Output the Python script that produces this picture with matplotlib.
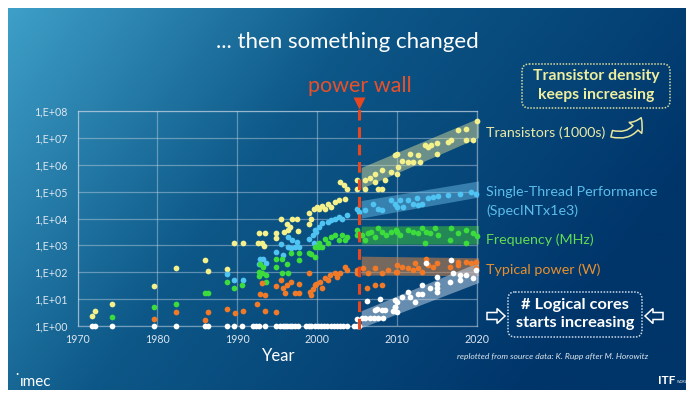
import numpy as np
import matplotlib
matplotlib.use("Agg")
import matplotlib.pyplot as plt
from matplotlib.colors import LinearSegmentedColormap
from matplotlib.patches import Polygon, FancyBboxPatch, FancyArrow, FancyArrowPatch

plt.rcParams['font.family'] = ['Lato', 'DejaVu Sans']

# data: (year, value)
transistors = [
    (1971.8, 2.3), (1972.2, 3.7), (1974.3, 6.4), (1979.6, 31), (1982.3, 150),
    (1986.0, 280), (1986.3, 115), (1988.7, 130), (1989.6, 1250), (1990.7, 1250),
    (1992.6, 1200), (1993.1, 1200), (1992.7, 3000), (1993.5, 3000), (1993.4, 950),
    (1994.8, 2900), (1994.8, 1900), (1995.5, 1.0e4), (1995.9, 3200), (1996.3, 6000),
    (1996.6, 5000), (1996.9, 1.0e4), (1997.5, 1.0e4), (1997.6, 3500), (1996.4, 3700),
    (1999.0, 1.6e4), (1999.3, 1.0e4), (1999.6, 2.3e4), (2000.2, 2.3e4), (1999.0, 6300),
    (2000.0, 2.7e4), (2000.6, 2.9e4), (2001.0, 2.3e4), (2001.4, 3.6e4), (2001.8, 2.7e4),
    (2002.3, 4.2e4), (2002.7, 4.8e4), (2003.5, 5.5e4), (2002.9, 2.3e5), (2003.4, 1.7e5),
    (2003.7, 1.2e5), (2005.0, 2.8e5), (2005.0, 1.2e5), (2006.0, 2.7e5), (2006.0, 1.2e5),
    (2006.6, 3.1e5), (2007.3, 2.3e5), (2007.7, 1.2e5), (2008.1, 1.2e5), (2007.3, 4.7e5),
    (2008.1, 6.3e5), (2008.5, 2.7e5), (2009.3, 5.5e5), (2009.8, 2.3e6), (2010.2, 8.3e5),
    (2010.0, 2.6e6), (2010.0, 4.5e5), (2010.6, 1.4e6), (2011.4, 1.3e6), (2012.0, 1.3e6),
    (2012.9, 1.3e6), (2011.6, 2.6e6), (2012.7, 2.3e6), (2013.5, 5.4e6), (2013.9, 4.7e6),
    (2014.3, 5.4e6), (2015.0, 6.2e6), (2015.0, 2.6e6), (2016.4, 7.0e6), (2016.8, 8.1e6),
    (2017.7, 1.9e7), (2018.7, 2.2e7), (2018.7, 8.0e6), (2019.5, 8.0e6), (2020.1, 4.3e7),
]
single_thread = [
    (1988.7, 87), (1989.6, 51), (1990.7, 51), (1992.9, 300), (1993.2, 320),
    (1992.7, 210), (1993.6, 225), (1994.8, 570), (1995.5, 1100), (1996.4, 2000),
    (1996.9, 1650), (1997.5, 1350), (1997.7, 890), (1997.3, 890), (1996.8, 780),
    (1996.4, 890), (1995.8, 440), (1999.0, 1800), (1999.5, 2400), (1999.9, 3200),
    (1999.6, 1200), (1999.8, 3700), (2000.2, 4900), (2000.6, 6600), (2001.4, 7600),
    (2001.8, 8700), (2002.3, 1.0e4), (2002.7, 1.15e4), (2003.1, 1.0e4), (2003.7, 1.32e4),
    (2005.0, 2.3e4), (2005.2, 1.8e4), (2006.0, 2.0e4), (2007.0, 3.6e4), (2007.7, 2.3e4),
    (2008.1, 2.0e4), (2009.3, 4.8e4), (2009.8, 3.6e4), (2010.4, 4.8e4), (2010.0, 2.7e4),
    (2010.8, 2.7e4), (2011.4, 4.8e4), (2012.0, 3.6e4), (2012.7, 3.2e4), (2013.1, 3.6e4),
    (2012.5, 6.0e4), (2013.9, 6.0e4), (2014.5, 6.5e4), (2015.1, 6.8e4), (2016.4, 7.6e4),
    (2017.9, 8.1e4), (2019.3, 9.5e4), (2019.9, 8.1e4),
]
frequency = [
    (1974.3, 2.1), (1979.6, 5.2), (1982.3, 6.5), (1986.0, 17), (1986.3, 17),
    (1988.7, 42), (1989.6, 25), (1990.6, 33), (1992.9, 210), (1993.2, 160),
    (1992.7, 105), (1993.6, 78), (1993.1, 90), (1993.6, 45), (1992.7, 72),
    (1994.8, 300), (1994.8, 160), (1995.6, 300), (1996.3, 210), (1996.8, 530),
    (1997.7, 530), (1997.7, 280), (1995.6, 96), (1996.4, 96), (1999.0, 530),
    (1999.3, 470), (1999.7, 380), (2000.2, 900), (1999.8, 900), (2000.2, 1200),
    (2001.0, 1800), (2001.8, 2100), (2002.3, 2400), (2003.1, 2400), (2003.7, 2100),
    (2001.4, 1200), (2000.6, 900), (2002.7, 1600), (2003.5, 1600), (2005.0, 3700),
    (2005.0, 2400), (2005.6, 2400), (2006.0, 1600), (2006.8, 3200), (2007.7, 4300),
    (2008.1, 3200), (2008.7, 2400), (2009.3, 3200), (2009.9, 3700), (2006.4, 2800),
    (2007.3, 2100), (2010.0, 3200), (2010.4, 2400), (2011.4, 3700), (2012.0, 3200),
    (2012.7, 2800), (2013.1, 4300), (2013.7, 3200), (2014.1, 2800), (2014.8, 4300),
    (2015.1, 2400), (2013.5, 1250), (2016.8, 4300), (2016.6, 1600), (2017.7, 2800),
    (2018.7, 3700), (2018.7, 1250), (2019.5, 2800), (2020.0, 2200),
]
typical_power = [
    (1979.6, 1.8), (1982.3, 3.2), (1986.0, 1.7), (1986.3, 3.2), (1988.7, 4.3),
    (1989.7, 3.1), (1990.7, 3.7), (1992.5, 6.6), (1993.5, 3.7), (1994.8, 3.3),
    (1992.9, 16), (1993.5, 14), (1993.1, 41), (1994.8, 31), (1995.5, 51),
    (1996.3, 33), (1996.8, 45), (1997.7, 38), (1997.3, 17), (1997.7, 17),
    (1996.0, 17), (1995.8, 25), (1999.0, 95), (1999.1, 19), (1999.5, 23),
    (1999.9, 38), (1999.3, 14), (1999.8, 33), (2000.4, 45), (2001.0, 59),
    (2001.6, 78), (2002.3, 91), (2002.9, 91), (2003.5, 160), (2003.7, 120),
    (2000.6, 25), (2001.4, 51), (2002.5, 68), (2005.0, 120), (2005.0, 91),
    (2005.8, 140), (2006.4, 91), (2007.3, 140), (2008.1, 91), (2008.9, 120),
    (2009.9, 105), (2006.2, 25), (2007.3, 33), (2008.1, 33), (2010.0, 185),
    (2010.0, 105), (2010.6, 160), (2011.4, 140), (2012.0, 120), (2012.7, 140),
    (2013.1, 105), (2013.6, 320), (2013.9, 185), (2014.5, 160), (2015.0, 215),
    (2016.6, 160), (2017.7, 185), (2017.7, 245), (2018.7, 245), (2019.3, 215),
    (2019.9, 245), (2019.9, 140), (2012.3, 215),
]
cores_single = [
    1971.8, 1972.2, 1974.3, 1979.6, 1982.3, 1986.0, 1986.3, 1988.7, 1989.6, 1990.6,
    1992.0, 1992.4, 1992.7, 1993.5, 1994.8, 1995.4, 1995.7, 1996.0, 1996.3, 1996.6,
    1996.9, 1997.2, 1997.6, 1998.6, 1999.0, 1999.3, 1999.7, 2000.1, 2000.5, 2000.9,
    2001.3, 2001.7, 2002.1, 2002.5, 2002.9, 2003.3, 2003.7, 2004.6, 2005.0, 2005.2,
]
logical_cores = [
    (2005.0, 1.9), (2005.6, 2), (2006.0, 2), (2006.6, 2), (2007.1, 2), (2007.7, 2),
    (2008.3, 2), (2006.2, 8.7), (2007.9, 9.8), (2008.1, 3.9), (2009.8, 9.1),
    (2009.5, 3.7), (2008.5, 3.9), (2007.3, 3.9), (2007.5, 4.4), (2009.8, 5.2),
    (2010.0, 8), (2010.0, 3.4), (2011.4, 19), (2011.6, 12), (2012.3, 8),
    (2012.7, 16), (2013.1, 16), (2013.1, 33), (2014.1, 25), (2015.0, 38),
    (2015.0, 25), (2015.0, 19), (2015.0, 68), (2013.7, 230), (2016.6, 45),
    (2017.0, 95), (2017.9, 51), (2017.9, 78), (2018.7, 78), (2019.5, 59),
    (2019.9, 126), (2016.8, 280), (2010.6, 12), (2009.8, 5.2),
]

# trend bands: (x0, lo0, hi0, x1, lo1, hi1) with lo/hi as decades
bands = [
    ((2005.6, 5.10, 5.88, 2020.3, 7.00, 7.72), '#e6e69a', 0.45),
    ((2005.6, 4.00, 4.65, 2020.3, 4.78, 5.38), '#70c4ee', 0.45),
    ((2005.6, 3.03, 3.70, 2020.3, 3.03, 3.72), '#3cc03c', 0.55),
    ((2005.6, 1.88, 2.58, 2020.3, 1.85, 2.52), '#d0844a', 0.55),
    ((2005.6, -0.08, 0.55, 2020.3, 1.60, 2.35), '#c8d8ea', 0.50),
]
power_wall = 2005.2

W, H = 694, 394
fig = plt.figure(figsize=(W / 100, H / 100), dpi=100, facecolor='white')

# slide background gradient
bg = fig.add_axes([8 / W, 4 / H, 678 / W, 382 / H], zorder=0)
xx, yy = np.meshgrid(np.linspace(0, 1, 300), np.linspace(0, 1, 170))
t = np.clip(0.85 * xx + 0.35 * yy, 0, 1)
cmap = LinearSegmentedColormap.from_list('slide', [(0, '#3e9fc7'), (0.45, '#0d5888'), (1, '#00356a')])
bg.imshow(t, cmap=cmap, aspect='auto', extent=[0, 1, 1, 0], interpolation='bilinear')
bg.axis('off')

# chart
ax = fig.add_axes([77.5 / W, (H - 326) / H, 399.2 / W, 215 / H], zorder=1)
ax.patch.set_alpha(0)
ax.set_yscale('log')
ax.set_xlim(1970, 2020)
ax.set_ylim(1, 1e8)
ax.set_yticks([10.0 ** i for i in range(9)])
ax.set_yticklabels([f"1,E+{i:02d}" for i in range(9)])
ax.yaxis.set_minor_locator(matplotlib.ticker.NullLocator())
ax.set_xticks([1970, 1980, 1990, 2000, 2010, 2020])
ax.tick_params(length=0, colors='#dde6ef', labelsize=7.7)
ax.tick_params(axis='y', pad=7)
ax.tick_params(axis='x', pad=6)
ax.grid(True, color='#c4d4e4', alpha=0.45, lw=0.9)
for s in ax.spines.values():
    s.set_color('#c4d4e4')
    s.set_alpha(0.55)
    s.set_linewidth(0.9)

for (x0, lo0, hi0, x1, lo1, hi1), col, a in bands:
    pts = [(x0, 10 ** lo0), (x0, 10 ** hi0), (x1, 10 ** hi1), (x1, 10 ** lo1)]
    ax.add_patch(Polygon(pts, closed=True, facecolor=col, alpha=a, edgecolor='none', zorder=2, clip_on=False))

def dots(series, color):
    xs, ys = zip(*series)
    ax.scatter(xs, ys, s=17, color=color, linewidths=0, zorder=3, clip_on=False)

dots(transistors, '#f4f08c')
dots(single_thread, '#4fc3f2')
dots(frequency, '#3ddc3d')
dots(typical_power, '#f07a28')
dots(logical_cores, '#ffffff')
ax.scatter(cores_single, [1] * len(cores_single), s=17, color='#ffffff', linewidths=0, zorder=3, clip_on=False)

# power wall
ax.plot([power_wall, power_wall], [0.75, 10 ** 8.2], color='#e8461e', lw=2.2, ls=(0, (3.5, 2.2)),
        zorder=4, clip_on=False)
ax.plot([power_wall], [10 ** 8.3], marker='v', ms=9, color='#e8461e', mec='none', zorder=4, clip_on=False)

# overlay in pixel coordinates
ov = fig.add_axes([0, 0, 1, 1], zorder=2)
ov.set_xlim(0, W)
ov.set_ylim(H, 0)
ov.axis('off')

ov.text(347, 42, "... then something changed", color='white', fontsize=16, ha='center', va='center')
ov.text(360, 86, "power wall", color='#e8502a', fontsize=15.5, ha='center', va='center')

lab = 10.3
ov.text(486, 133, "Transistors (1000s)", color='#eaeaa6', fontsize=lab, va='center')
ov.text(486, 192, "Single-Thread Performance", color='#5bbde8', fontsize=lab, va='center')
ov.text(486, 211, "(SpecINTx1e3)", color='#5bbde8', fontsize=lab, va='center')
ov.text(486, 240, "Frequency (MHz)", color='#62dc52', fontsize=lab, va='center')
ov.text(486, 270, "Typical power (W)", color='#e8902e', fontsize=lab, va='center')

ov.add_patch(FancyBboxPatch((522, 64), 148, 44, boxstyle='round,pad=0,rounding_size=7',
                            fc='none', ec='#dcdc9c', ls=(0, (1, 1)), lw=1.1))
ov.text(596, 76, "Transistor density", color='#eeee9e', fontsize=11.3, fontweight='bold', ha='center', va='center')
ov.text(596, 95, "keeps increasing", color='#eeee9e', fontsize=11.3, fontweight='bold', ha='center', va='center')
ov.add_patch(FancyArrowPatch((609, 133), (642, 115), connectionstyle='arc3,rad=0.5',
                             arrowstyle='simple,head_length=0.7,head_width=1.0,tail_width=0.4',
                             mutation_scale=12, fc='none', ec='#e6e69e', lw=1.1))

ov.add_patch(FancyBboxPatch((508, 292), 134, 45, boxstyle='round,pad=0,rounding_size=7',
                            fc='none', ec='#d0dcea', ls=(0, (1, 1)), lw=1.1))
ov.text(575, 305, "# Logical cores", color='white', fontsize=11.8, fontweight='bold', ha='center', va='center')
ov.text(575, 323, "starts increasing", color='white', fontsize=11.8, fontweight='bold', ha='center', va='center')
ov.add_patch(FancyArrow(487, 316, 18, 0, width=7, head_width=15, head_length=8, length_includes_head=True,
                        fc='none', ec='white', lw=1.1))
ov.add_patch(FancyArrow(663, 316, -18, 0, width=7, head_width=15, head_length=8, length_includes_head=True,
                        fc='none', ec='white', lw=1.1))

ov.text(279, 356, "Year", color='white', fontsize=12, ha='center', va='center')
ov.text(553, 357, "replotted from source data: K. Rupp after M. Horowitz", color='#dde6ee',
        fontsize=6.1, style='italic', ha='center', va='center')
ov.text(16.5, 374, "\u00b7", color='white', fontsize=9, ha='center', va='center')
ov.text(20, 382, "\u0131mec", color='white', fontsize=11, ha='left', va='center')
ov.text(658, 380, "ITF", color='white', fontsize=8.5, fontweight='bold', ha='left', va='center')
ov.text(677, 382, "WORLD", color='white', fontsize=2.5, ha='left', va='center')

fig.savefig("out.png", dpi=100, facecolor='white')
